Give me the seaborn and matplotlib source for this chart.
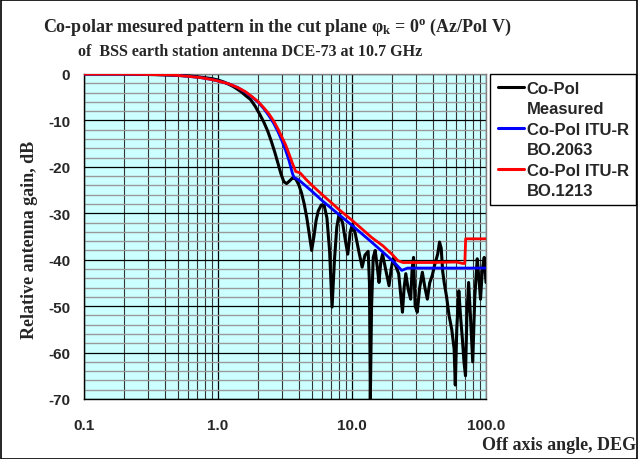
import numpy as np
import pandas as pd
import matplotlib
matplotlib.use("Agg")
import matplotlib.pyplot as plt
import seaborn as sns
from matplotlib.ticker import LogLocator, FixedLocator, FuncFormatter, MultipleLocator, NullFormatter
from matplotlib.legend_handler import HandlerLine2D
from matplotlib.lines import Line2D
from matplotlib.patches import Rectangle

# ---------------- data ----------------
meas_x = [0.1, 0.2, 0.3, 0.4, 0.5, 0.6, 0.7, 0.8, 0.9, 1.0, 1.1, 1.2, 1.3, 1.4, 1.5, 1.6,
          1.75, 1.9, 2.05, 2.2, 2.35, 2.5, 2.65, 2.8, 2.95, 3.1, 3.25, 3.4, 3.6, 3.8, 4.0,
          4.2, 4.4, 4.6, 4.8, 5.0, 5.2, 5.4, 5.6, 5.9, 6.2, 6.5, 6.8, 7.1, 7.4, 7.7, 8.0,
          8.5, 9.0, 9.3, 9.7, 10.1, 10.6, 11.3, 11.9, 12.5, 13.2, 13.5, 13.7, 14.0, 14.4,
          14.9, 15.5, 15.9, 16.4, 16.9, 17.8, 18.9, 19.6, 20.3, 21.3, 22.3, 23.1, 23.8,
          24.5, 25.2, 26.3, 27.4, 28.1, 28.8, 29.6, 30.7, 32.0, 33.5, 35.0, 36.5, 38.0,
          39.7, 41.5, 43.6, 45.0, 46.3, 47.5, 48.8, 50.8, 53.0, 55.5, 57.8, 59.0, 60.5,
          62.7, 64.5, 66.6, 68.5, 70.3, 72.0, 74.2, 76.5, 79.6, 82.5, 86.0, 88.5, 91.0,
          94.0, 97.0, 100.0]
meas_db = [0.0, 0.0, -0.1, -0.2, -0.3, -0.4, -0.6, -0.8, -1.0, -1.3, -1.7, -2.2, -2.7, -3.3,
           -3.9, -4.6, -5.5, -7.0, -8.7, -10.4, -12.3, -14.5, -16.8, -19.2, -21.5, -23.2,
           -23.6, -23.1, -22.4, -22.6, -23.8, -25.6, -28.0, -31.0, -34.5, -38.0, -35.0,
           -31.5, -29.5, -28.2, -28.3, -31.0, -38.0, -50.2, -40.0, -33.0, -30.2, -32.0,
           -36.5, -38.8, -34.0, -32.3, -34.5, -38.5, -41.6, -39.0, -38.2, -45.0, -70.0,
           -50.0, -39.5, -38.0, -42.0, -44.9, -40.5, -38.8, -42.0, -45.6, -42.0, -39.8,
           -41.5, -43.0, -47.5, -51.3, -46.0, -43.0, -46.5, -48.5, -42.0, -39.5, -50.0,
           -51.3, -46.0, -42.7, -46.0, -48.5, -45.0, -43.4, -41.0, -38.8, -36.2, -37.5,
           -42.5, -45.0, -48.0, -52.0, -55.0, -59.2, -67.0, -55.0, -46.7, -52.0, -57.0,
           -62.0, -65.0, -52.0, -44.9, -52.0, -62.0, -48.0, -39.8, -44.0, -48.5, -42.0,
           -39.5, -44.9]

bo2063_x = [0.1, 0.2, 0.3, 0.45, 0.6, 0.75, 0.9, 1.0, 1.2, 1.4, 1.6, 1.8, 2.0, 2.2, 2.4,
            2.6, 2.8, 3.0, 3.2, 3.4, 3.6, 3.7, 4.0, 5.0, 6.0, 8.0, 10.0, 14.0, 18.0, 21.0,
            23.5, 26.0, 100.0]
bo2063_db = [0.0, 0.0, -0.1, -0.2, -0.5, -0.8, -1.2, -1.5, -2.1, -2.9, -3.9, -5.0, -6.1,
             -7.5, -9.0, -10.6, -12.4, -14.4, -16.5, -18.8, -21.5, -22.3, -22.8, -25.2,
             -27.3, -30.3, -32.6, -36.2, -39.0, -40.8, -42.3, -41.8, -41.8]

bo1213_x = [0.1, 0.2, 0.3, 0.45, 0.6, 0.75, 0.9, 1.0, 1.2, 1.4, 1.6, 1.8, 2.0, 2.2, 2.4,
            2.6, 2.8, 3.0, 3.2, 3.4, 3.6, 3.8, 4.1, 4.5, 5.0, 6.0, 7.0, 8.0, 10.0, 12.0,
            14.0, 17.0, 20.0, 22.0, 24.0, 40.0, 60.0, 67.0, 69.5, 70.5, 100.0]
bo1213_db = [0.0, 0.0, -0.1, -0.2, -0.5, -0.8, -1.2, -1.5, -2.1, -2.9, -3.8, -4.9, -6.0,
             -7.3, -8.6, -10.1, -11.8, -13.6, -15.3, -17.3, -19.3, -21.0, -21.3, -22.6,
             -23.9, -26.0, -27.7, -29.2, -31.5, -33.5, -35.2, -37.0, -38.9, -40.2, -40.6,
             -40.6, -40.5, -40.8, -40.8, -35.5, -35.5]

labels = ["Co-Pol\nMeasured", "Co-Pol ITU-R\nBO.2063", "Co-Pol ITU-R\nBO.1213"]
colors = ["#000000", "#0000FF", "#FF0000"]
x_ticks = [0.1, 1.0, 10.0, 100.0]
y_ticks = [0, -10, -20, -30, -40, -50, -60, -70]

title1 = r"Co-polar mesured pattern in the cut plane φ$_{\mathrm{k}}$ = 0$^{\mathrm{o}}$ (Az/Pol V)"
title2 = "of  BSS earth station antenna DCE-73 at 10.7 GHz"
ylabel = "Relative antenna gain, dB"
xlabel = "Off axis angle, DEG"

# ---------------- style ----------------
sns.set_style("white")
plt.rcParams["font.family"] = ["Liberation Sans", "DejaVu Sans"]
plt.rcParams["mathtext.fontset"] = "custom"
plt.rcParams["mathtext.rm"] = "Liberation Serif:bold"
plt.rcParams["mathtext.it"] = "Liberation Serif:bold"
plt.rcParams["mathtext.bf"] = "Liberation Serif:bold"

fig = plt.figure(figsize=(6.38, 4.6), dpi=100)
fig.patch.set_facecolor("white")
ax = fig.add_axes([84 / 638, 1 - 400 / 460, (486 - 84) / 638, (400 - 75) / 460])
ax.set_facecolor("#CCFFFF")

df_m = pd.DataFrame({"x": meas_x, "y": meas_db})
df_b = pd.DataFrame({"x": bo2063_x, "y": bo2063_db})
df_r = pd.DataFrame({"x": bo1213_x, "y": bo1213_db})

sns.lineplot(data=df_m, x="x", y="y", ax=ax, color=colors[0], lw=2.2, estimator=None, sort=False, zorder=3)
sns.lineplot(data=df_b, x="x", y="y", ax=ax, color=colors[1], lw=2.0, estimator=None, sort=False, zorder=4)
sns.lineplot(data=df_r, x="x", y="y", ax=ax, color=colors[2], lw=2.0, estimator=None, sort=False, zorder=5)

ax.set_xscale("log")
ax.set_xlim(0.1, 100)
ax.set_ylim(-70, 0)

ax.xaxis.set_major_locator(FixedLocator(x_ticks))
ax.xaxis.set_major_formatter(FuncFormatter(lambda v, p: f"{v:.1f}"))
ax.xaxis.set_minor_locator(LogLocator(base=10, subs=np.arange(2, 10)))
ax.xaxis.set_minor_formatter(NullFormatter())
ax.yaxis.set_major_locator(FixedLocator(y_ticks))
ax.yaxis.set_major_formatter(FuncFormatter(lambda v, p: f"{int(round(v))}"))
ax.yaxis.set_minor_locator(MultipleLocator(2))

# grid
ax.grid(which="major", axis="x", color="black", lw=0.9, zorder=1)
ax.grid(which="minor", axis="x", color="#333333", lw=0.8, zorder=1)
ax.grid(which="major", axis="y", color="black", lw=0.9, zorder=1)
ax.grid(which="minor", axis="y", color="#999999", lw=1.0, zorder=1)
ax.set_axisbelow(True)

ax.tick_params(which="major", direction="out", length=5, width=1, color="black",
               labelsize=11, pad=5)
ax.tick_params(which="minor", direction="out", length=4, width=1, color="black")
ax.tick_params(axis="y", which="minor", direction="inout", length=6)
for lab in ax.get_xticklabels() + ax.get_yticklabels():
    lab.set_fontweight("bold")
ax.tick_params(axis="x", pad=9)

for s in ["left", "bottom"]:
    ax.spines[s].set_color("black")
    ax.spines[s].set_linewidth(1.0)
for s in ["top", "right"]:
    ax.spines[s].set_color("#808080")
    ax.spines[s].set_linewidth(1.0)

ax.set_xlabel("")
ax.set_ylabel("")

serif = ["Liberation Serif", "DejaVu Serif"]
fig.text(30 / 638, 1 - 240 / 460, ylabel, rotation=90, ha="center", va="center",
         fontsize=13, fontweight="bold", family=serif)
fig.text(636 / 638, 1 - 446 / 460, xlabel, ha="right", va="center",
         fontsize=13, fontweight="bold", family=serif)
fig.text(277 / 638, 1 - 27 / 460, title1, ha="center", va="center",
         fontsize=13, fontweight="bold", family=serif)
fig.text(250 / 638, 1 - 52 / 460, title2, ha="center", va="center",
         fontsize=11.5, fontweight="bold", family=serif)


class TopLineHandler(HandlerLine2D):
    def create_artists(self, legend, orig_handle, xdescent, ydescent, width, height, fontsize, trans):
        arts = super().create_artists(legend, orig_handle, xdescent, ydescent, width, height,
                                      fontsize, trans)
        for a in arts:
            if isinstance(a, Line2D):
                a.set_ydata(np.asarray(a.get_ydata()) + 0.7 * fontsize)
        return arts


handles = [Line2D([0], [0], color=c, lw=2.2) for c in colors]
leg = fig.legend(handles, labels, loc="upper left", bbox_to_anchor=(490 / 638, 1 - 75 / 460),
                 frameon=True, fancybox=False, edgecolor="black", framealpha=1,
                 prop={"weight": "bold", "size": 12, "family": "Liberation Sans"},
                 handlelength=1.6, handletextpad=0.15, borderpad=0.45, labelspacing=0.35,
                 borderaxespad=0,
                 handler_map={Line2D: TopLineHandler()})
for t in leg.get_texts():
    t.set_linespacing(1.4)
leg.get_frame().set_linewidth(1.0)

# figure border
fig.patches.append(Rectangle((0.001, 0.001), 0.997, 0.997, transform=fig.transFigure,
                             fill=False, edgecolor="black", lw=1.2))

fig.savefig("out.png", dpi=100)
